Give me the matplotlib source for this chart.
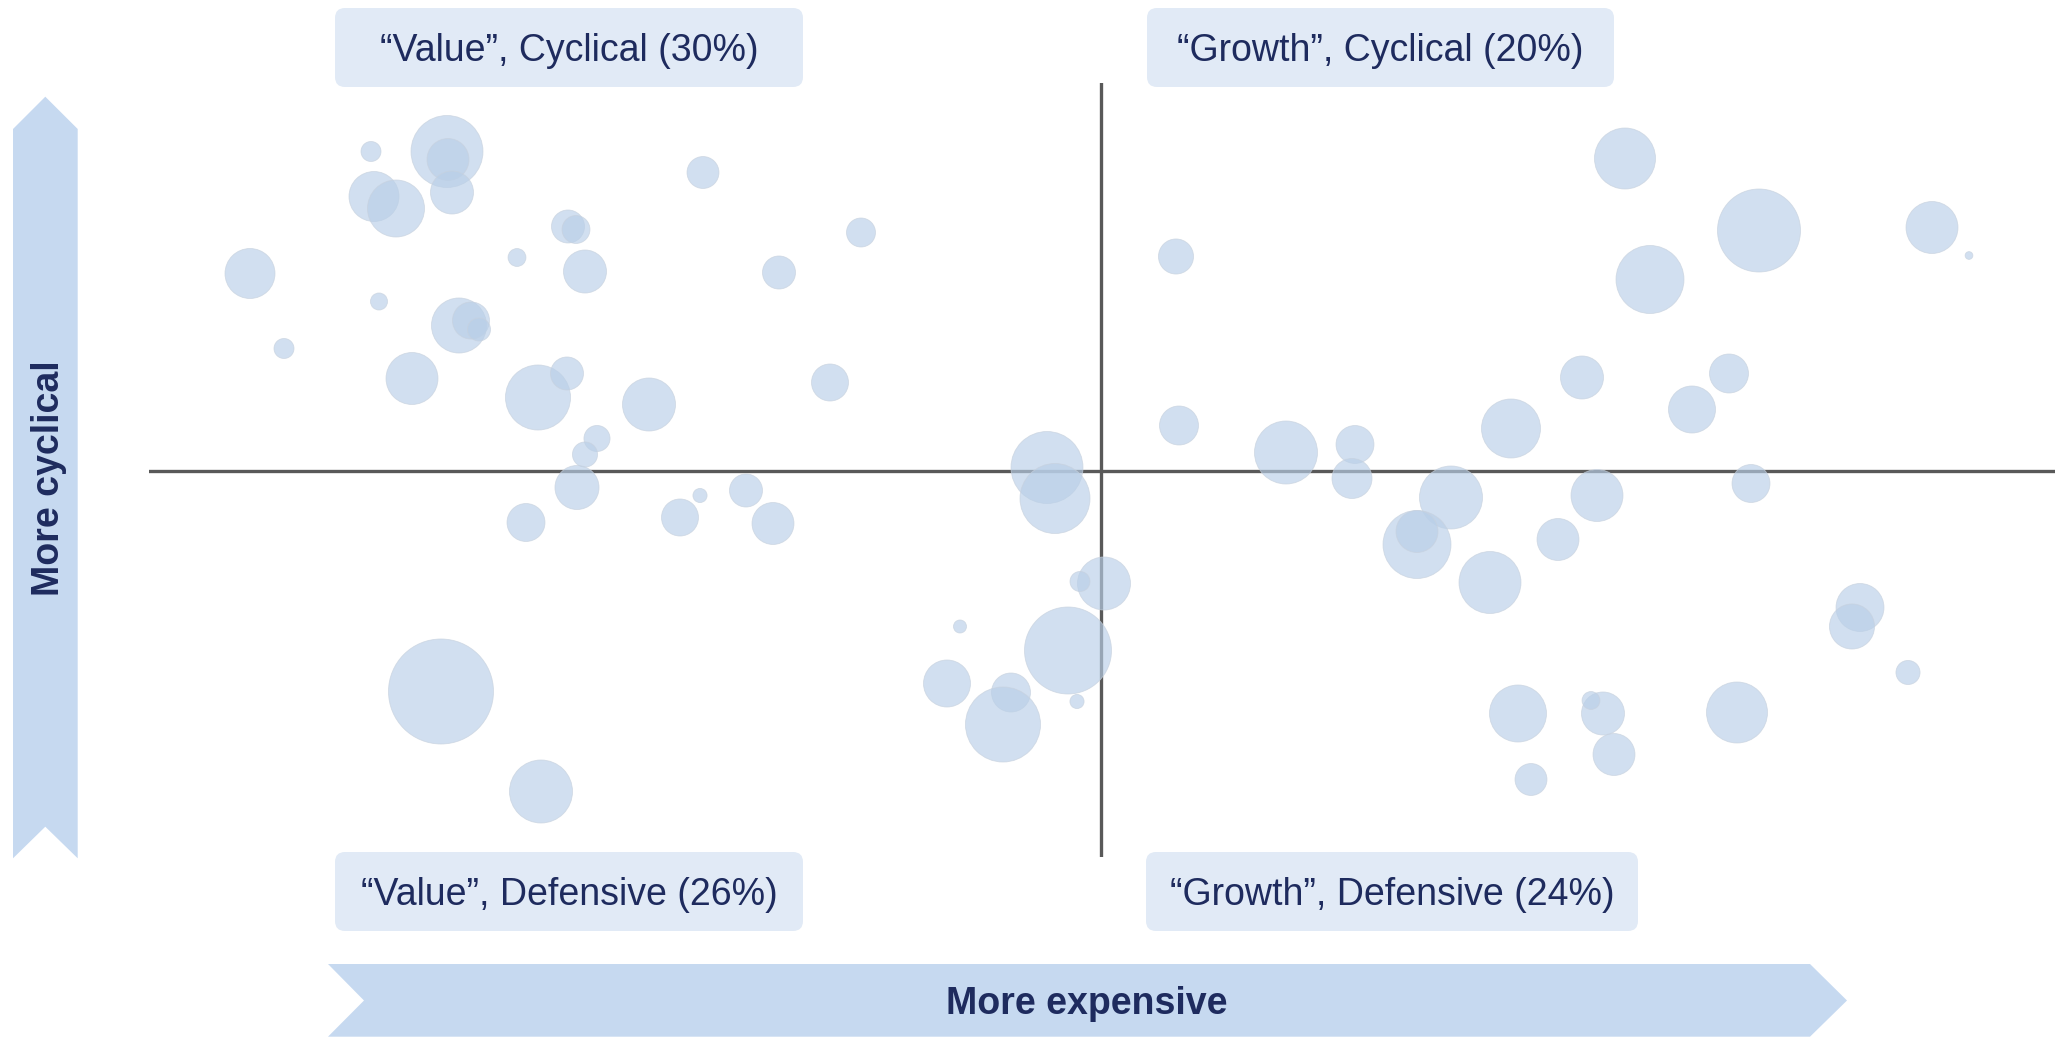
import numpy as np
import matplotlib
matplotlib.use('Agg')
import matplotlib.pyplot as plt
from matplotlib.patches import Polygon, FancyBboxPatch

# relative valuation (x), cyclicality (y), index weight (bubble area)
valuation = [-7.30, -6.54, -6.53, -6.49, -7.27, -7.05, -3.98, -5.33, -5.25, -5.84,
             -5.16, -8.51, -2.40, -3.22, -7.22, -6.42, -6.30, -6.22, -8.17, -6.89,
             -5.63, -5.34, -4.52, -2.71, -5.04, -5.16, -5.24, -5.75, -4.01, -4.21,
             -3.55, -3.28, -6.60, -5.60,
             -0.54, -0.46, 0.78, 1.85, 2.54, 2.51, 3.50, 3.16, 3.16, 0.03,
             -0.21, -1.41, -0.33, -1.54, -0.90, -0.98, -0.24,
             0.75, 5.24, 6.58, 5.49, 8.31, 8.68, 4.81, 6.28, 5.91, 4.10, 4.96, 6.50,
             3.89, 4.57, 7.59, 7.51, 8.07, 4.17, 5.02, 4.90, 5.13, 4.30, 6.36]
cyclicality = [3.19, 3.19, 3.11, 2.78, 2.74, 2.62, 2.98, 2.44, 2.41, 2.13,
               1.99, 1.97, 2.38, 1.98, 1.69, 1.45, 1.50, 1.41, 1.22, 0.92,
               0.73, 0.97, 0.66, 0.88, 0.32, 0.16, -0.17, -0.52, -0.25, -0.47,
               -0.20, -0.53, -2.21, -3.21,
               0.03, -0.28, 0.45, 0.18, 0.26, -0.08, -0.27, -0.74, -0.61, -1.13,
               -1.11, -1.56, -1.80, -2.13, -2.22, -2.54, -2.31,
               2.14, 3.12, 2.40, 1.91, 2.43, 2.15, 0.93, 0.97, 0.61, 0.42, -0.25, -0.13,
               -1.12, -0.69, -1.37, -1.56, -2.02, -2.43, -2.43, -2.30, -2.84, -3.09, -2.42]
weight = [4.0, 51.8, 17.6, 18.5, 25.0, 32.5, 10.2, 10.9, 7.8, 3.2,
          18.5, 25.0, 8.4, 10.9, 2.9, 30.3, 13.7, 5.3, 4.0, 27.0,
          42.3, 10.9, 28.1, 13.7, 6.8, 6.3, 19.4, 14.4, 2.0, 13.7,
          10.9, 17.6, 110.3, 39.7,
          51.8, 49.0, 15.2, 39.7, 14.4, 16.0, 39.7, 46.2, 17.6, 28.1,
          4.0, 1.7, 75.7, 22.1, 15.2, 56.3, 2.0,
          12.3, 37.2, 68.9, 46.2, 27.0, 0.6, 18.5, 15.2, 22.1, 34.8, 27.0, 14.4,
          38.4, 17.6, 23.0, 20.3, 5.8, 32.5, 18.5, 3.2, 17.6, 10.2, 37.2]

quadrant_labels = ['\u201cValue\u201d, Cyclical (30%)', '\u201cGrowth\u201d, Cyclical (20%)',
                   '\u201cValue\u201d, Defensive (26%)', '\u201cGrowth\u201d, Defensive (24%)']
x_label = 'More expensive'
y_label = 'More cyclical'

navy = '#1E2B5E'
arrow_col = '#C6D9F0'
box_col = '#E1EAF6'
plt.rcParams['font.family'] = ['Liberation Sans', 'DejaVu Sans']

W, H = 2062, 1038
fig = plt.figure(figsize=(W / 100, H / 100), dpi=100)

# background layer in pixel units for arrows and labels
bg = fig.add_axes([0, 0, 1, 1])
bg.set_xlim(0, W)
bg.set_ylim(H, 0)
bg.axis('off')

bg.add_patch(Polygon([(13, 129), (45.3, 96.7), (77.7, 129), (77.7, 858.3),
                      (45.3, 826.7), (13, 858.3)], closed=True, fc=arrow_col, ec='none'))
bg.add_patch(Polygon([(328, 964), (1810, 964), (1847, 1000.5), (1810, 1036.7),
                      (328, 1036.7), (364, 1000.5)], closed=True, fc=arrow_col, ec='none'))
bg.text(59, 478, y_label, rotation=90, rotation_mode='anchor', ha='center', va='baseline',
        fontsize=27, fontweight='bold', color=navy)
bg.text(1087, 1014, x_label, ha='center', va='baseline',
        fontsize=27, fontweight='bold', color=navy)

boxes = [(335, 8, 803, 87), (1147, 8, 1614, 87), (335, 852, 803, 931), (1146, 852, 1638, 931)]
for (x0, y0, x1, y1), lab in zip(boxes, quadrant_labels):
    bg.add_patch(FancyBboxPatch((x0, y0), x1 - x0, y1 - y0,
                                boxstyle='round,pad=0,rounding_size=10',
                                fc=box_col, ec='none'))
    bg.text((x0 + x1) / 2, (y0 + y1) / 2 + 13.5, lab, ha='center', va='baseline',
            fontsize=27, color=navy)

# main bubble chart
ax = fig.add_axes([149 / W, 1 - 857 / H, (2055 - 149) / W, (857 - 83) / H])
ax.patch.set_alpha(0)
ax.set_xlim(-9.52, 9.54)
ax.set_ylim(-3.865, 3.875)
ax.axis('off')
ax.axhline(0, color='#595959', lw=2.4, zorder=1)
ax.axvline(0, color='#595959', lw=2.4, zorder=1)

sizes = 51.84 * np.array(weight)
ax.scatter(valuation, cyclicality, s=sizes, c=[(0.725, 0.812, 0.91, 0.65)],
           edgecolors=[(0.78, 0.82, 0.87, 0.7)], linewidths=0.6, zorder=2, clip_on=False)

fig.savefig('out.png', dpi=100)
